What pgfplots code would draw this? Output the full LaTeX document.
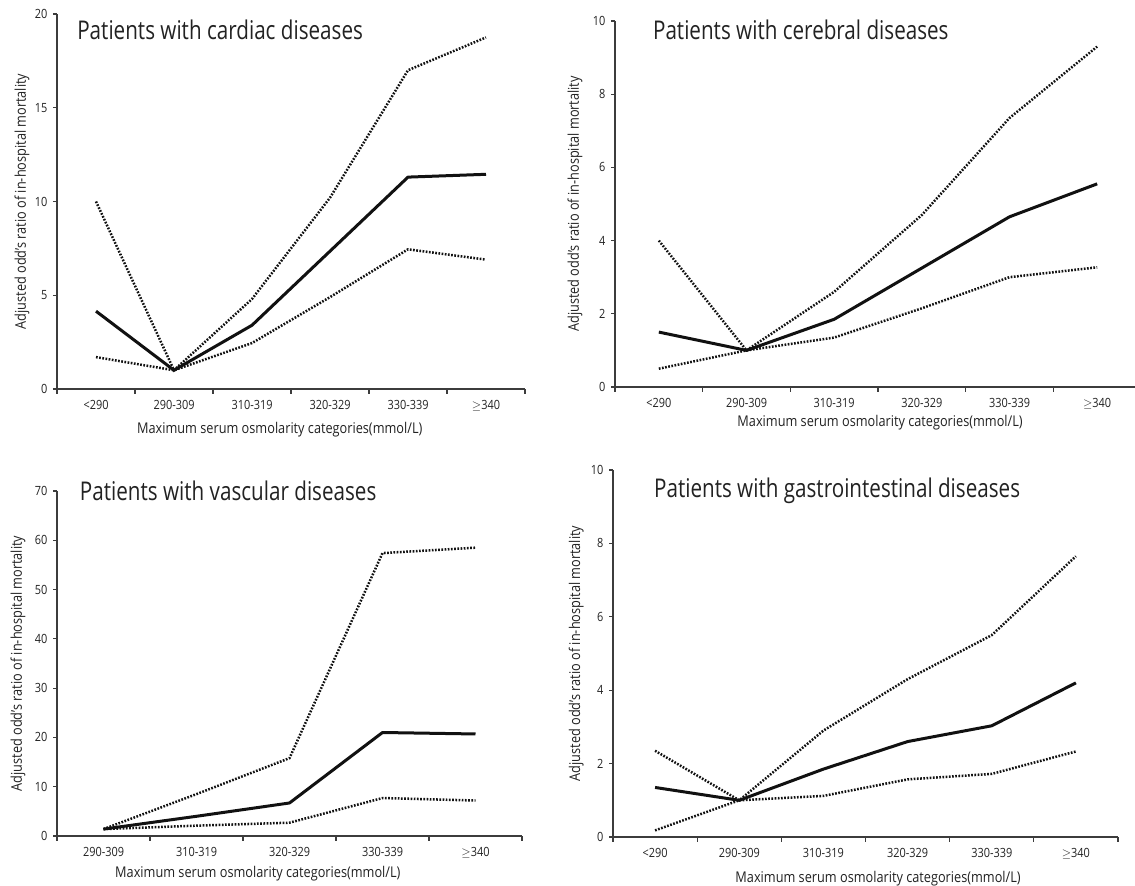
\documentclass[border=0pt]{standalone}
\usepackage{fontspec}
\setmainfont{Open Sans}[FakeStretch=0.86]
\newfontfamily\titlefont{Open Sans}[FakeStretch=0.8]
\usepackage{pgfplots}
\pgfplotsset{compat=1.18}
\usepackage{pgfplotstable}
\definecolor{ax}{HTML}{3C3C3C}
\definecolor{ln}{HTML}{111111}
\definecolor{tx}{HTML}{222222}

\pgfplotstableread{
x lo est hi
0.5 1.7 4.15 10.0
1.5 1.0 1.0 1.0
2.5 2.45 3.4 4.8
3.5 4.9 7.35 10.2
4.5 7.45 11.3 17.0
5.5 6.9 11.45 18.75
}\cardiac
\pgfplotstableread{
x lo est hi
0.5 0.5 1.5 4.0
1.5 1.0 1.0 1.0
2.5 1.35 1.85 2.6
3.5 2.15 3.25 4.7
4.5 3.0 4.65 7.35
5.5 3.27 5.55 9.3
}\cerebral
\pgfplotstableread{
x lo est hi
0.5 1.4 1.4 1.4
1.5 2.1 4.0 8.5
2.5 2.7 6.7 15.8
3.5 7.7 21.0 57.4
4.5 7.2 20.7 58.5
}\vascular
\pgfplotstableread{
x lo est hi
0.5 0.18 1.35 2.35
1.5 1.0 1.0 1.0
2.5 1.12 1.85 2.9
3.5 1.57 2.6 4.3
4.5 1.72 3.03 5.5
5.5 2.33 4.2 7.65
}\gastro

\tikzset{
 est/.style={ln, line width=3pt, line join=round},
 ci/.style={ln, line width=2.5pt, dash pattern=on 1.7pt off 1.5pt},
 ttl/.style={anchor=west, inner sep=0pt, font=\titlefont\fontsize{25.8}{30}\selectfont, text=tx},
}
\pgfplotsset{
 panel/.style={
   scale only axis, anchor=south west,
   axis x line*=bottom, axis y line*=left,
   axis line style={ax, line width=1.1pt},
   xmin=0, ymin=0,
   tick align=outside,
   major tick length=4pt, minor tick length=5pt,
   major x tick style={draw=none},
   minor x tick style={ax, line width=1.1pt},
   y tick style={ax, line width=1.1pt},
   tick label style={font=\fontsize{12.7}{15}\selectfont, text=tx},
   xticklabel style={yshift=-3.5pt},
   yticklabel style={xshift=-2pt},
   /pgf/number format/assume math mode=true,
   label style={font=\fontsize{14.8}{17}\selectfont, text=tx},
   ylabel={Adjusted odd's ratio of in-hospital mortality},
   xlabel={Maximum serum osmolarity categories(mmol/L)},
   clip=false,
 },
 six/.style={xmax=6, xtick={0.5,1.5,...,5.5}, minor xtick={0,1,...,6},
   xticklabels={<290,290-309,310-319,320-329,330-339,$\geq$340}},
 five/.style={xmax=5, xtick={0.5,1.5,...,4.5}, minor xtick={0,1,...,5},
   xticklabels={290-309,310-319,320-329,330-339,$\geq$340}},
}

\begin{document}
\begin{tikzpicture}
\path[use as bounding box] (0,0) rectangle (1135pt,886pt);

% Panel 1
\begin{axis}[panel, six, at={(57pt,497pt)}, width=468pt, height=375pt,
  ymax=20, ytick={0,5,...,20},
  ylabel style={at={(axis description cs:-0.075,0.5)}, anchor=center},
  xlabel style={at={(axis description cs:0.476,0)}, anchor=center, yshift=-41pt}]
\addplot[ci] table[x=x,y=hi]{\cardiac};
\addplot[ci] table[x=x,y=lo]{\cardiac};
\addplot[est] table[x=x,y=est]{\cardiac};
\node[ttl] at (rel axis cs:0.043,0.957) {Patients with cardiac diseases};
\end{axis}

% Panel 2
\begin{axis}[panel, six, at={(615pt,499pt)}, width=526pt, height=366pt,
  ymax=10, ytick={0,2,...,10},
  ylabel style={at={(axis description cs:-0.076,0.5)}, anchor=center},
  xlabel style={at={(axis description cs:0.504,0)}, anchor=center, yshift=-36pt}]
\addplot[ci] table[x=x,y=hi]{\cerebral};
\addplot[ci] table[x=x,y=lo]{\cerebral};
\addplot[est] table[x=x,y=est]{\cerebral};
\node[ttl] at (rel axis cs:0.072,0.975) {Patients with cerebral diseases};
\end{axis}

% Panel 3
\begin{axis}[panel, five, at={(57pt,50pt)}, width=465pt, height=345pt,
  ymax=70, ytick={0,10,...,70},
  ylabel style={at={(axis description cs:-0.084,0.5)}, anchor=center},
  xlabel style={at={(axis description cs:0.432,0)}, anchor=center, yshift=-38pt}]
\addplot[ci] table[x=x,y=hi]{\vascular};
\addplot[ci] table[x=x,y=lo]{\vascular};
\addplot[est] table[x=x,y=est]{\vascular};
\node[ttl] at (rel axis cs:0.049,1.0) {Patients with vascular diseases};
\end{axis}

% Panel 4
\begin{axis}[panel, six, at={(613pt,49pt)}, width=505pt, height=367pt,
  ymax=10, ytick={0,2,...,10},
  ylabel style={at={(axis description cs:-0.073,0.5)}, anchor=center},
  xlabel style={at={(axis description cs:0.525,0)}, anchor=center, yshift=-42pt}]
\addplot[ci] table[x=x,y=hi]{\gastro};
\addplot[ci] table[x=x,y=lo]{\gastro};
\addplot[est] table[x=x,y=est]{\gastro};
\node[ttl] at (rel axis cs:0.081,0.943) {Patients with gastrointestinal diseases};
\end{axis}
\end{tikzpicture}
\end{document}
